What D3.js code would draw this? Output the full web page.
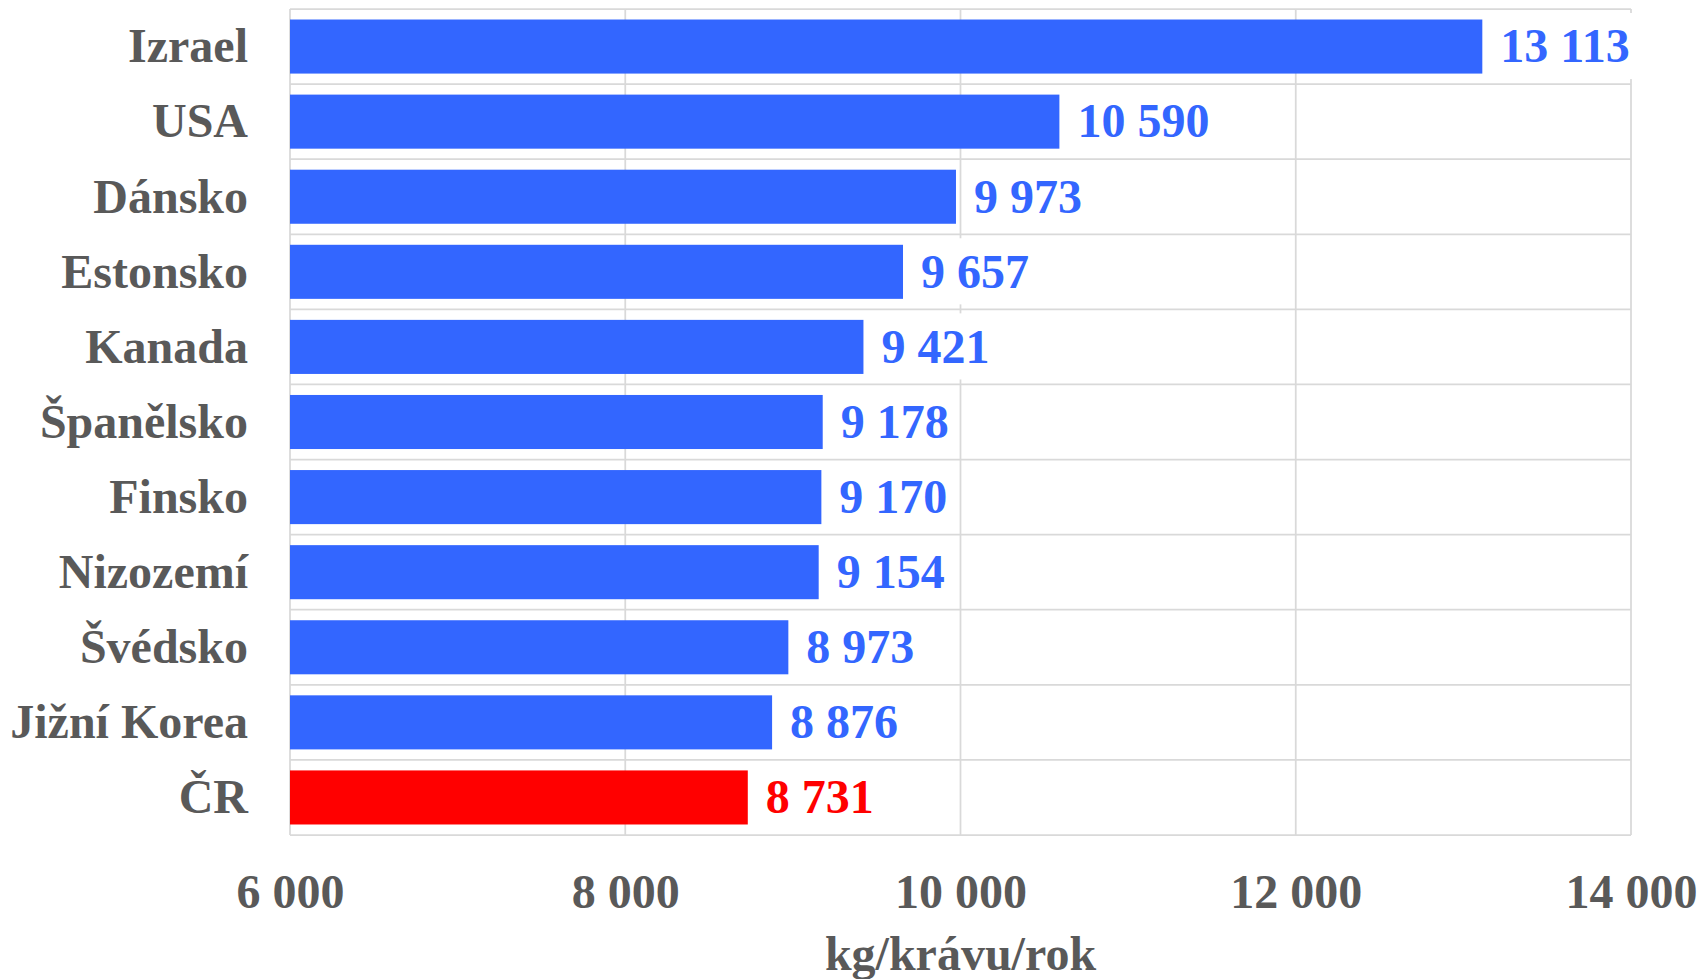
<!DOCTYPE html>
<html>
<head>
<meta charset="utf-8">
<script src="https://cdn.jsdelivr.net/npm/d3@7"></script>
<style>
  html, body { margin: 0; padding: 0; background: #ffffff; }
  svg { display: block; }
  text { font-family: "Liberation Serif", "Times New Roman", serif; font-weight: bold; }
</style>
</head>
<body>
<svg id="chart" width="1701" height="979"></svg>
<script>
const categories = ["Izrael", "USA", "Dánsko", "Estonsko", "Kanada", "Španělsko", "Finsko", "Nizozemí", "Švédsko", "Jižní Korea", "ČR"];
const values = [13113, 10590, 9973, 9657, 9421, 9178, 9170, 9154, 8973, 8876, 8731];
const highlight = ["ČR"];
const xTicks = [6000, 8000, 10000, 12000, 14000];
const xDomain = [6000, 14000];
const axisTitle = "kg/krávu/rok";

const W = 1701, H = 979;
const margin = { left: 290, right: 70, top: 9, bottom: 144 };
const plotRight = W - margin.right;
const plotBottom = H - margin.bottom;

const BLUE = "#3366FF", RED = "#FF0000", GRID = "#D9D9D9", TEXT = "#595959";
const FONT = 48;

const locale = d3.formatLocale({ decimal: ",", thousands: " ", grouping: [3], currency: ["", ""] });
const fmt = locale.format(",d");

const svg = d3.select("#chart");
const x = d3.scaleLinear().domain(xDomain).range([margin.left, plotRight]);
const y = d3.scaleBand().domain(categories).range([margin.top, plotBottom])
  .paddingInner(0.28).paddingOuter(0.14);
const step = y.step();
const bandTop = c => y(c) - step * 0.14;

const data = categories.map((c, i) => ({ cat: c, val: values[i] }));

// horizontal gridlines (band boundaries)
const hLines = categories.map(bandTop).concat([plotBottom]);
svg.append("g").selectAll("line").data(hLines).join("line")
  .attr("x1", margin.left).attr("x2", plotRight)
  .attr("y1", d => d).attr("y2", d => d)
  .attr("stroke", GRID).attr("stroke-width", 1.75);

// vertical gridlines
svg.append("g").selectAll("line").data(xTicks).join("line")
  .attr("x1", d => x(d)).attr("x2", d => x(d))
  .attr("y1", margin.top).attr("y2", plotBottom)
  .attr("stroke", GRID).attr("stroke-width", 1.75);

// bars
svg.append("g").selectAll("rect").data(data).join("rect")
  .attr("x", x(xDomain[0]))
  .attr("y", d => y(d.cat))
  .attr("width", d => x(d.val) - x(xDomain[0]))
  .attr("height", y.bandwidth())
  .attr("fill", d => highlight.includes(d.cat) ? RED : BLUE);

// value labels with white boxes
const lg = svg.append("g");
data.forEach(d => {
  const g = lg.append("g");
  const rect = g.append("rect").attr("fill", "#ffffff");
  const t = g.append("text")
    .attr("x", x(d.val) + 18)
    .attr("y", y(d.cat) + y.bandwidth() / 2)
    .attr("dy", "0.33em")
    .attr("font-size", FONT)
    .attr("fill", highlight.includes(d.cat) ? RED : BLUE)
    .text(fmt(d.val));
  const bb = t.node().getBBox();
  rect.attr("x", x(d.val) + 8)
    .attr("y", bandTop(d.cat) + 4)
    .attr("width", bb.x + bb.width + 8 - (x(d.val) + 8))
    .attr("height", step - 9);
});

// x axis
const xAxis = svg.append("g")
  .attr("transform", `translate(0,${plotBottom})`)
  .call(d3.axisBottom(x).tickValues(xTicks).tickFormat(fmt).tickSize(0).tickPadding(39));
xAxis.select(".domain").remove();
xAxis.selectAll("text")
  .attr("font-size", FONT)
  .attr("font-family", "Liberation Serif, serif")
  .attr("font-weight", "bold")
  .attr("fill", TEXT);

// y axis
const yAxis = svg.append("g")
  .attr("transform", `translate(${margin.left},0)`)
  .call(d3.axisLeft(y).tickSize(0).tickPadding(42));
yAxis.select(".domain").remove();
yAxis.selectAll("text")
  .attr("font-size", FONT)
  .attr("font-family", "Liberation Serif, serif")
  .attr("font-weight", "bold")
  .attr("fill", TEXT)
  .attr("dy", "0.33em");

// axis title
svg.append("text")
  .attr("x", (margin.left + plotRight) / 2)
  .attr("y", 970)
  .attr("text-anchor", "middle")
  .attr("font-size", FONT)
  .attr("fill", TEXT)
  .text(axisTitle);
</script>
</body>
</html>
